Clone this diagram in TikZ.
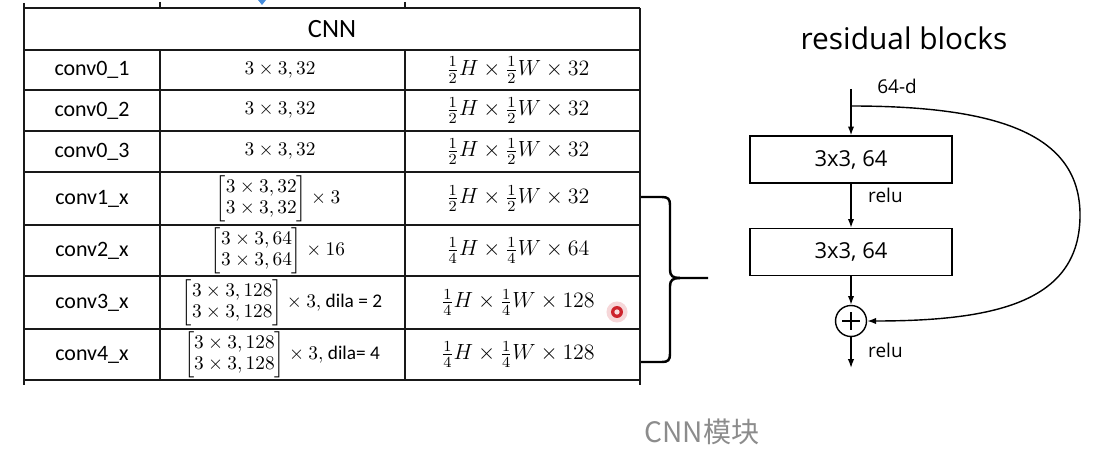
\RequirePackage{fix-cm}
\documentclass[tikz,border=0pt]{standalone}
\usepackage{amsmath}
\usepackage{fontspec}
\setmainfont{Carlito}
\newfontfamily\resfont{Open Sans}
\newfontfamily\cjkfont{Noto Sans CJK SC}
\usetikzlibrary{arrows.meta}
\usepackage{xcolor}
\definecolor{captiongray}{gray}{0.55}
\definecolor{cursorred}{RGB}{205,35,45}
\definecolor{cursorblue}{RGB}{70,140,220}

\tikzset{
	grid line/.style={line width=1.4pt, black!90},
	cell/.style={inner sep=1pt},
	head text/.style={cell, font=\fontsize{15}{17}\selectfont},
	name text/.style={cell, font=\fontsize{12.5}{14}\selectfont},
	kernel text/.style={cell, font=\fontsize{11}{13}\selectfont},
	size text/.style={cell, font=\fontsize{12.5}{14}\selectfont},
	conv box/.style={draw, line width=0.8pt, minimum width=4.04cm, minimum height=0.94cm, font=\resfont\fontsize{12.5}{14}\selectfont},
	res label/.style={font=\resfont\fontsize{10.8}{12}\selectfont},
	flow/.style={line width=0.8pt, -{Latex[length=5pt,width=3.6pt]}}
}
\newcommand{\dilatext}[1]{{\fontsize{11}{12}\selectfont #1}}
\renewcommand{\arraystretch}{0.92}

\begin{document}
\begin{tikzpicture}[x=0.02cm, y=-0.02cm]
					\useasboundingbox (0,0) rectangle (1104,466);
					% Table grid:
					\draw[grid line] (24,3) -- (24,385);
					\draw[grid line] (640,8) -- (640,385);
					\draw[grid line] (160,2) -- (160,8);
					\draw[grid line] (405,2) -- (405,8);
					\draw[grid line] (160,50) -- (160,380);
					\draw[grid line] (405,50) -- (405,380);
					\draw[grid line] (24,8) -- (640,8);
					\draw[grid line] (24,50) -- (640,50);
					\draw[grid line] (24,90) -- (640,90);
					\draw[grid line] (24,131) -- (640,131);
					\draw[grid line] (24,172) -- (640,172);
					\draw[grid line] (24,225) -- (640,225);
					\draw[grid line] (24,276) -- (640,276);
					\draw[grid line] (24,329) -- (640,329);
					\draw[grid line] (24,380) -- (640,380);
					\fill[cursorblue] (258,0) -- (266,0) -- (262,5) -- cycle;
					% Table cells:
					\node[head text] (head) at (332,29) {CNN};
					\node[name text] (n01) at (92,70) {conv0\_1};
					\node[name text] (n02) at (92,110.5) {conv0\_2};
					\node[name text] (n03) at (92,151.5) {conv0\_3};
					\node[name text] (n1) at (92,198.5) {conv1\_x};
					\node[name text] (n2) at (92,250.5) {conv2\_x};
					\node[name text] (n3) at (92,302.5) {conv3\_x};
					\node[name text] (n4) at (92,354.5) {conv4\_x};
					\node[kernel text] (k01) at (280,70) {$3\times3,32$};
					\node[kernel text] (k02) at (280,110.5) {$3\times3,32$};
					\node[kernel text] (k03) at (280,151.5) {$3\times3,32$};
					\node[kernel text] (k1) at (278,198.5) {$\begin{bmatrix}3\times3,32\\3\times3,32\end{bmatrix}\times3$};
					\node[kernel text] (k2) at (278,250.5) {$\begin{bmatrix}3\times3,64\\3\times3,64\end{bmatrix}\times16$};
					\node[kernel text] (k3) at (282,302.5) {$\begin{bmatrix}3\times3,128\\3\times3,128\end{bmatrix}\times3,$ \dilatext{dila = 2}};
					\node[kernel text] (k4) at (282,354.5) {$\begin{bmatrix}3\times3,128\\3\times3,128\end{bmatrix}\times3,$ \dilatext{dila= 4}};
					\node[size text] (s01) at (518,70) {$\frac{1}{2}H\times\frac{1}{2}W\times32$};
					\node[size text] (s02) at (518,110.5) {$\frac{1}{2}H\times\frac{1}{2}W\times32$};
					\node[size text] (s03) at (518,151.5) {$\frac{1}{2}H\times\frac{1}{2}W\times32$};
					\node[size text] (s1) at (518,198.5) {$\frac{1}{2}H\times\frac{1}{2}W\times32$};
					\node[size text] (s2) at (518,250.5) {$\frac{1}{4}H\times\frac{1}{4}W\times64$};
					\node[size text] (s3) at (518,302.5) {$\frac{1}{4}H\times\frac{1}{4}W\times128$};
					\node[size text] (s4) at (518,354.5) {$\frac{1}{4}H\times\frac{1}{4}W\times128$};
					% Cursor mark:
					\fill[cursorred!18] (617,312) circle (6pt);
					\fill[cursorred] (617,312) circle (3.4pt);
					\fill[white!85!cursorred] (617,312) circle (1.5pt);
					% Brace:
					\draw[line width=1.4pt] (641,197) -- (662,197) .. controls (668,197) and (670,199) .. (670,205) -- (670,270) .. controls (670,276) and (673,278) .. (680,278) -- (708,278);
					\draw[line width=1.4pt] (680,278) .. controls (673,278) and (670,280) .. (670,286) -- (670,354) .. controls (670,360) and (668,362) .. (662,362) -- (641,362);
					% Residual block:
					\node[font=\resfont\fontsize{17}{20}\selectfont] (title) at (904,38) {residual blocks};
					\node[res label] (dim) at (897,86) {64-d};
					\coordinate (in) at (851,89);
					\coordinate (split) at (851,106);
					\node[conv box] (conv1) at (851,159.5) {3x3, 64};
					\node[conv box] (conv2) at (851,252) {3x3, 64};
					\node[circle, draw, line width=0.8pt, minimum size=0.62cm, inner sep=0pt] (add) at (851,321) {};
					\draw[line width=0.8pt] (add.center) ++(-9,0) -- ++(18,0);
					\draw[line width=0.8pt] (add.center) ++(0,-9) -- ++(0,18);
					\coordinate (out) at (851,368);
					\node[res label, anchor=west] (relu1) at (862,195) {relu};
					\node[res label, anchor=west] (relu2) at (862,350) {relu};
					\draw[flow] (in) -- (conv1);
					\draw[flow] (conv1) -- (conv2);
					\draw[flow] (conv2) -- (add);
					\draw[flow] (add) -- (out);
					\draw[flow] (split) .. controls (1000,106) and (1080,135) .. (1080,215) .. controls (1080,300) and (1000,321) .. (add.east);
					% Caption:
					\node[font=\cjkfont\fontsize{16}{18}\selectfont, text=captiongray] (caption) at (702,432) {CNN模块};
				\end{tikzpicture}
\end{document}
